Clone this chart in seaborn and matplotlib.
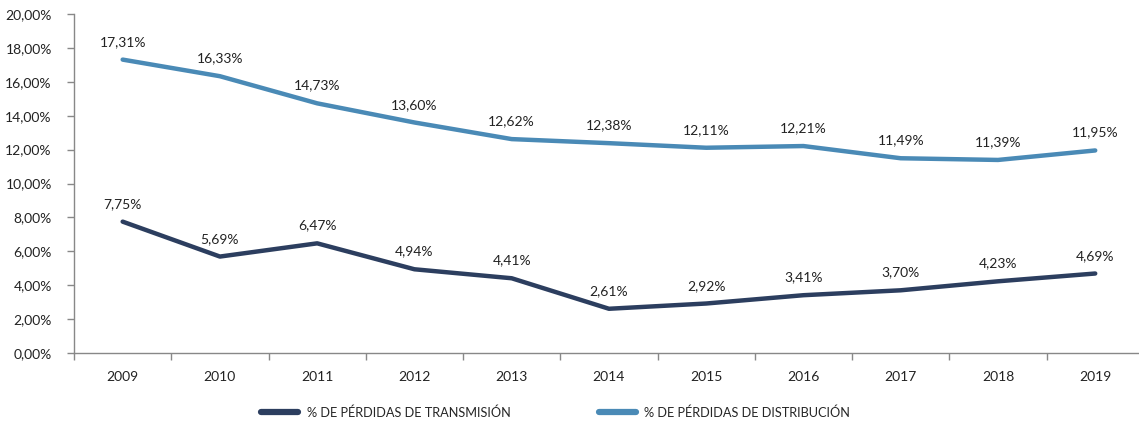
import matplotlib
matplotlib.use("Agg")
import matplotlib.pyplot as plt
from matplotlib.ticker import FixedLocator, FuncFormatter
import seaborn as sns
import pandas as pd

years = ["2009", "2010", "2011", "2012", "2013", "2014", "2015", "2016", "2017", "2018", "2019"]
transmision = [7.75, 5.69, 6.47, 4.94, 4.41, 2.61, 2.92, 3.41, 3.70, 4.23, 4.69]
distribucion = [17.31, 16.33, 14.73, 13.60, 12.62, 12.38, 12.11, 12.21, 11.49, 11.39, 11.95]
series_names = ["% DE PÉRDIDAS DE TRANSMISIÓN", "% DE PÉRDIDAS DE DISTRIBUCIÓN"]
colors = ["#2c3e5f", "#4a8ab6"]

sns.set_theme(style="white")
plt.rcParams["font.family"] = ["Lato", "DejaVu Sans"]

df = pd.DataFrame({
    "year": years * 2,
    "value": transmision + distribucion,
    "serie": [series_names[0]] * len(years) + [series_names[1]] * len(years),
})

fig = plt.figure(figsize=(11.39, 4.22), dpi=100)
ax = fig.add_axes([0.065, 0.1635, 0.935, 0.8033])

sns.lineplot(data=df, x="year", y="value", hue="serie", palette=colors,
             linewidth=3.2, solid_capstyle="round", ax=ax, legend=False, sort=False)

for vals in (transmision, distribucion):
    for i, v in enumerate(vals):
        ax.annotate(f"{v:.2f}%".replace(".", ","), (i, v), xytext=(0, 8.5),
                    textcoords="offset points", ha="center", va="bottom",
                    fontsize=10, color="#222222")

ax.set_xlim(-0.5, 10.45)
ax.set_ylim(0, 20)
ax.yaxis.set_major_locator(FixedLocator([0, 2, 4, 6, 8, 10, 12, 14, 16, 18, 20]))
ax.yaxis.set_major_formatter(FuncFormatter(lambda v, p: f"{v:.2f}%".replace(".", ",")))
ax.set_xticks(range(len(years)))
ax.set_xticklabels(years)
ax.xaxis.set_minor_locator(FixedLocator([i - 0.5 for i in range(len(years) + 1)]))
ax.tick_params(axis="x", which="major", length=0, pad=13, labelsize=10, labelcolor="#222222")
ax.tick_params(axis="x", which="minor", length=5, width=1, color="#888888", direction="out", bottom=True)
ax.tick_params(axis="y", which="major", length=5, width=1, color="#888888", direction="out",
               left=True, pad=11, labelsize=10, labelcolor="#222222")
ax.set_xlabel("")
ax.set_ylabel("")
for s in ("top", "right"):
    ax.spines[s].set_visible(False)
for s in ("left", "bottom"):
    ax.spines[s].set_color("#888888")
    ax.spines[s].set_linewidth(1)
ax.grid(False)

handles = [plt.Line2D([0], [0], color=c, linewidth=4.5, solid_capstyle="round") for c in colors]
fig.legend(handles, series_names, loc="center", bbox_to_anchor=(0.4877, 0.022), ncol=2,
           frameon=False, fontsize=9.2, handlelength=2.9, handletextpad=0.65,
           columnspacing=6.9)

fig.savefig("out.png", dpi=100)
